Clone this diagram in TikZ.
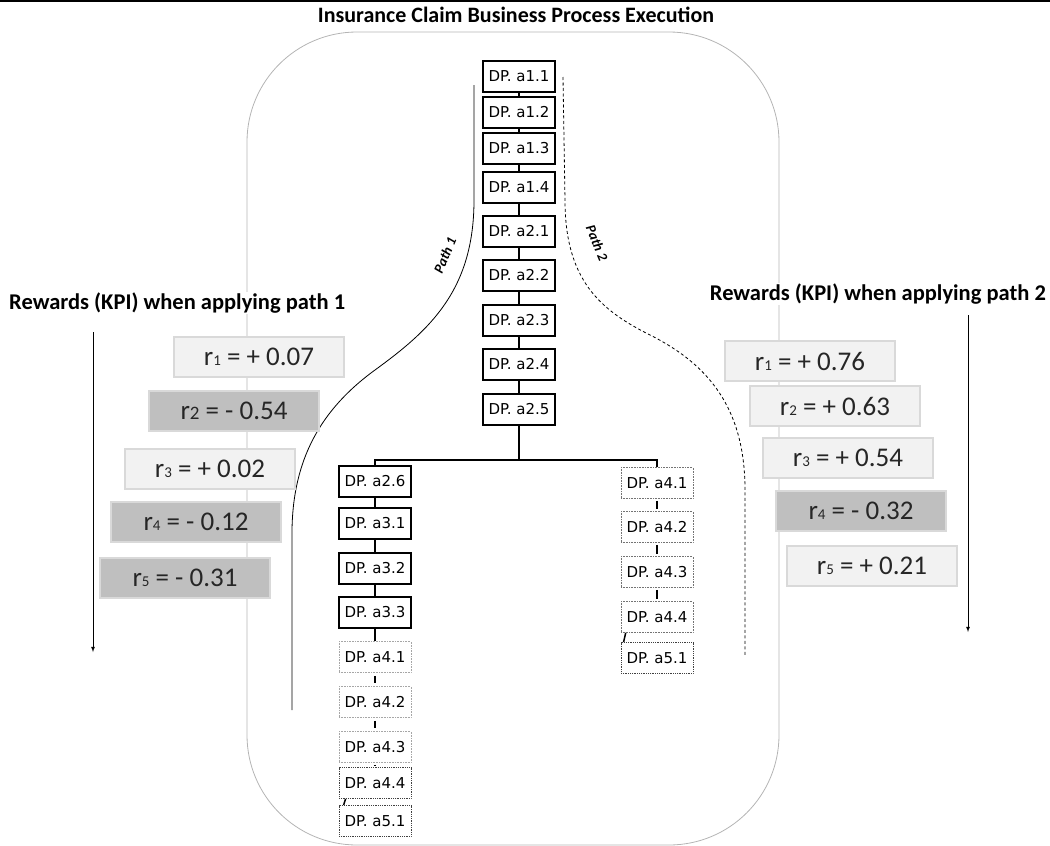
\documentclass[tikz,border=0pt]{standalone}
\usepackage{fontspec}
\setmainfont{Carlito}
\newfontfamily\dpfont{DejaVu Sans}
\usepackage{xcolor}
\usetikzlibrary{positioning,arrows}

\definecolor{rewlight}{HTML}{F2F2F2}
\definecolor{rewdark}{HTML}{BFBFBF}
\definecolor{rewedge}{HTML}{D9D9D9}
\definecolor{framegray}{HTML}{B4B4B4}
\newcommand{\rsub}[1]{{\fontsize{15}{15}\selectfont #1}}

\tikzset{
  dpbox/.style = {draw, line width=2pt, fill=white, minimum width=72pt, minimum height=31pt,
                  inner sep=1pt, font=\dpfont\fontsize{15}{16}\selectfont},
  faintbox/.style = {dpbox, draw=black!35, line width=0.6pt, densely dotted},
  dotbox/.style = {dpbox, draw=black!75, line width=0.8pt, densely dotted},
  link/.style = {line width=2.2pt},
  rewgood/.style = {draw=rewedge, fill=rewlight, line width=1.5pt, minimum width=170pt,
                    minimum height=40pt, font=\fontsize{27}{29}\selectfont, text=black!85},
  rewbad/.style = {rewgood, fill=rewdark},
  heading/.style = {font=\bfseries\fontsize{22.5}{24}\selectfont, fill=white, inner sep=1pt},
  pathlab/.style = {font=\bfseries\itshape\fontsize{14}{15}\selectfont, inner sep=0pt}
}

\begin{document}
\begin{tikzpicture}[x=1pt, y=-1pt]
\useasboundingbox (0,0) rectangle (1050,846);
% top rule and outer frame
\draw[line width=1.5pt] (0,1) -- (1050,1);
\draw[framegray, line width=0.8pt, rounded corners=110pt] (247,32) rectangle (779,845);
\node[font=\bfseries\fontsize{22}{24}\selectfont] (title) at (516,15) {Insurance Claim Business Process Execution};

% main trunk
\node[dpbox] (a11) at (519,76) {DP. a1.1};
\node[dpbox] (a12) at (519,112) {DP. a1.2};
\node[dpbox] (a13) at (519,148) {DP. a1.3};
\node[dpbox] (a14) at (519,187) {DP. a1.4};
\node[dpbox] (a21) at (519,231) {DP. a2.1};
\node[dpbox] (a22) at (519,275) {DP. a2.2};
\node[dpbox] (a23) at (519,320) {DP. a2.3};
\node[dpbox] (a24) at (519,364) {DP. a2.4};
\node[dpbox] (a25) at (519,409) {DP. a2.5};
\coordinate (fork) at (519,460);

% left branch
\node[dpbox] (a26) at (375,481) {DP. a2.6};
\node[dpbox] (a31) at (375,523) {DP. a3.1};
\node[dpbox] (a32) at (375,568) {DP. a3.2};
\node[dpbox] (a33) at (375,612) {DP. a3.3};
\node[faintbox] (la41) at (375,657) {DP. a4.1};
\node[faintbox] (la42) at (375,702) {DP. a4.2};
\node[faintbox] (la43) at (375,747) {DP. a4.3};
\node[dotbox] (la44) at (375,783) {DP. a4.4};
\node[dotbox] (la51) at (375,821) {DP. a5.1};

% right branch
\node[faintbox, draw=black!55] (ra41) at (657,483) {DP. a4.1};
\node[faintbox, draw=black!55] (ra42) at (657,527) {DP. a4.2};
\node[faintbox, draw=black!55] (ra43) at (657,572) {DP. a4.3};
\node[faintbox, draw=black!55] (ra44) at (657,617) {DP. a4.4};
\node[dotbox] (ra51) at (657,658) {DP. a5.1};

\draw[link] (a11) -- (a12);
\draw[link] (a12) -- (a13);
\draw[link] (a13) -- (a14);
\draw[link] (a14) -- (a21);
\draw[link] (a21) -- (a22);
\draw[link] (a22) -- (a23);
\draw[link] (a23) -- (a24);
\draw[link] (a24) -- (a25);
\draw[link] (a25) -- (fork);
\draw[link] (a26.north) |- (fork) -| (ra41.north);
\draw[link] (a26) -- (a31);
\draw[link] (a31) -- (a32);
\draw[link] (a32) -- (a33);
\draw[link] (a33) -- (la41);
\draw[link, shorten <=3pt, shorten >=3pt] (la41) -- (la42);
\draw[link, shorten <=3pt, shorten >=3pt] (la42) -- (la43);
\draw[link, shorten <=2pt, shorten >=2pt] (la43) -- (la44);
\draw[line width=1.5pt] ([xshift=7pt]la44.south west) -- ([xshift=5pt]la51.north west);
\draw[link, shorten <=2pt, shorten >=2pt] (ra41) -- (ra42);
\draw[link, shorten <=2pt, shorten >=2pt] (ra42) -- (ra43);
\draw[link, shorten <=2pt, shorten >=2pt] (ra43) -- (ra44);
\draw[line width=1.5pt] ([xshift=5pt]ra44.south west) -- ([xshift=3pt]ra51.north west);

% the two paths
\coordinate (p1s) at (474,85);
\coordinate (p1e) at (292,710);
\draw[line width=0.8pt] (p1s) -- (474,200) .. controls (474,290) and (430,330) .. (375,370)
      .. controls (320,410) and (293,460) .. (292,530) -- (p1e);
\node[pathlab, rotate=67] (p1lab) at (445,255) {Path 1};
\coordinate (p2s) at (563,77);
\coordinate (p2e) at (745,657);
\draw[line width=0.8pt, dash pattern=on 3pt off 2.5pt] (p2s) -- (565,200) .. controls (565,280) and (600,310) .. (650,335)
      .. controls (710,365) and (745,410) .. (745,490) -- (p2e);
\node[pathlab, rotate=-68] (p2lab) at (597,243) {Path 2};

% rewards for path 1
\node[heading, anchor=west] (rew1) at (8,303) {Rewards (KPI) when applying path 1};
\coordinate (l1top) at (93,332);
\coordinate (l1bot) at (93,652);
\draw[-latex, line width=0.8pt] (l1top) -- (l1bot);
\node[rewgood] (l1r1) at (259,357) {r\rsub{1} = + 0.07};
\node[rewbad] (l1r2) at (234,411) {r{\fontsize{19}{19}\selectfont 2} = - 0.54};
\node[rewgood] (l1r3) at (210,469) {r\rsub{3} = + 0.02};
\node[rewbad] (l1r4) at (196,522) {r\rsub{4} = - 0.12};
\node[rewbad] (l1r5) at (185,578) {r\rsub{5} = - 0.31};

% rewards for path 2
\node[heading, anchor=east] (rew2) at (1047,294) {Rewards (KPI) when applying path 2};
\coordinate (l2top) at (968,315);
\coordinate (l2bot) at (968,632);
\draw[-latex, line width=0.8pt] (l2top) -- (l2bot);
\node[rewgood] (l2r1) at (810,361) {r\rsub{1} = + 0.76};
\node[rewgood] (l2r2) at (835,406) {r\rsub{2} = + 0.63};
\node[rewgood] (l2r3) at (848,458) {r\rsub{3} = + 0.54};
\node[rewbad] (l2r4) at (861,511) {r\rsub{4} = - 0.32};
\node[rewgood] (l2r5) at (872,566) {r\rsub{5} = + 0.21};
\end{tikzpicture}
\end{document}
